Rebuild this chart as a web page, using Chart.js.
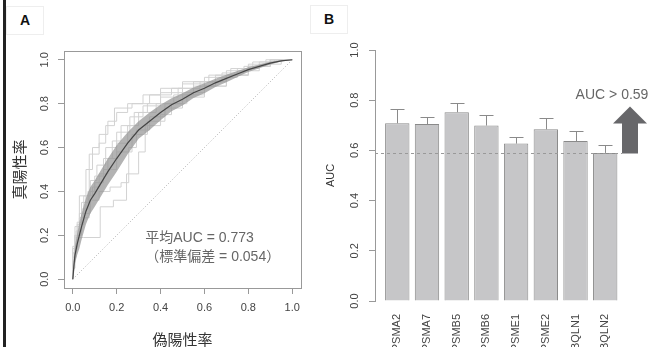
<!DOCTYPE html>
<html>
<head>
<meta charset="utf-8">
<script src="https://cdn.jsdelivr.net/npm/chart.js@4.4.1/dist/chart.umd.min.js"></script>
<style>
  html, body { margin: 0; padding: 0; background: #fff; overflow: hidden; width: 663px; height: 347px; }
  #rocCanvas { position: absolute; left: 0; top: 0; }
  #barCanvas { position: absolute; left: 315px; top: 0; }
  .edge { position: absolute; left: 3px; top: 0; width: 3px; height: 347px; background: #222; }
  .tag { position: absolute; width: 36px; height: 27px; border: 1px solid #eee; color: #111;
         font: bold 14px "Liberation Sans", Arial, sans-serif; text-align: center; line-height: 27px; }
</style>
</head>
<body>
<div class="edge"></div>
<div class="tag" style="left:6px;top:6px">A</div>
<div class="tag" style="left:310px;top:5px">B</div>
<canvas id="rocCanvas" width="315" height="349"></canvas>
<canvas id="barCanvas" width="348" height="347"></canvas>
<script>
// ---- panel A: ROC curves ----
const rocTicks = [0, 0.2, 0.4, 0.6, 0.8, 1.0];
const meanFpr  = [0, 0.005, 0.01, 0.02, 0.03, 0.04, 0.06, 0.08, 0.1, 0.13, 0.16, 0.2, 0.25, 0.3, 0.35, 0.4, 0.45, 0.5, 0.55, 0.6, 0.65, 0.7, 0.75, 0.8, 0.85, 0.9, 0.95, 1];
const meanTpr  = [0, 0.06, 0.11, 0.16, 0.2, 0.24, 0.31, 0.36, 0.39, 0.44, 0.49, 0.55, 0.62, 0.68, 0.72, 0.76, 0.795, 0.82, 0.85, 0.87, 0.895, 0.915, 0.935, 0.955, 0.97, 0.985, 0.995, 1];
const bandHigh = [0, 0.09, 0.15, 0.21, 0.26, 0.3, 0.37, 0.42, 0.45, 0.5, 0.55, 0.61, 0.67, 0.72, 0.76, 0.795, 0.825, 0.848, 0.874, 0.893, 0.914, 0.932, 0.949, 0.966, 0.979, 0.991, 0.998, 1];
const bandLow  = [0, 0.02, 0.07, 0.11, 0.14, 0.18, 0.25, 0.3, 0.33, 0.38, 0.43, 0.49, 0.57, 0.64, 0.68, 0.725, 0.765, 0.792, 0.826, 0.847, 0.876, 0.898, 0.921, 0.944, 0.961, 0.979, 0.992, 1];

// individual folds (step curves)
const foldFpr = [
  [0, 0.01, 0.03, 0.075, 0.12, 0.15, 0.19, 0.27, 0.35, 0.45, 0.55, 0.65, 0.75, 0.85, 0.95, 1],
  [0, 0.01, 0.05, 0.125, 0.185, 0.245, 0.3, 0.33, 0.4, 0.45, 0.52, 0.6, 0.7, 0.8, 0.9, 1],
  [0, 0.01, 0.03, 0.06, 0.09, 0.12, 0.16, 0.2, 0.25, 0.3, 0.38, 0.46, 0.55, 0.65, 0.75, 0.85, 0.93, 1],
  [0, 0.02, 0.04, 0.07, 0.1, 0.14, 0.18, 0.22, 0.28, 0.34, 0.4, 0.5, 0.6, 0.7, 0.8, 0.9, 1],
  [0, 0.01, 0.04, 0.08, 0.12, 0.17, 0.22, 0.255, 0.29, 0.35, 0.42, 0.5, 0.6, 0.7, 0.8, 0.9, 1],
  [0, 0.02, 0.05, 0.08, 0.11, 0.15, 0.2, 0.26, 0.32, 0.4, 0.48, 0.58, 0.68, 0.78, 0.88, 1],
  [0, 0.01, 0.03, 0.06, 0.09, 0.12, 0.16, 0.2, 0.25, 0.32, 0.4, 0.5, 0.62, 0.72, 0.82, 0.92, 1],
  [0, 0.015, 0.04, 0.07, 0.1, 0.14, 0.2, 0.27, 0.34, 0.42, 0.5, 0.6, 0.7, 0.8, 0.9, 1]
];
const foldTpr = [
  [0, 0.12, 0.2, 0.28, 0.57, 0.62, 0.7, 0.78, 0.8, 0.84, 0.87, 0.9, 0.93, 0.96, 0.98, 1],
  [0, 0.05, 0.19, 0.19, 0.33, 0.36, 0.48, 0.58, 0.7, 0.75, 0.8, 0.84, 0.88, 0.93, 0.97, 1],
  [0, 0.1, 0.2, 0.3, 0.38, 0.42, 0.48, 0.55, 0.62, 0.7, 0.76, 0.8, 0.84, 0.88, 0.92, 0.95, 0.99, 1],
  [0, 0.14, 0.26, 0.35, 0.4, 0.47, 0.55, 0.63, 0.7, 0.76, 0.8, 0.85, 0.89, 0.92, 0.95, 0.98, 1],
  [0, 0.08, 0.2, 0.3, 0.36, 0.4, 0.42, 0.44, 0.6, 0.68, 0.74, 0.8, 0.85, 0.9, 0.93, 0.97, 1],
  [0, 0.15, 0.25, 0.38, 0.45, 0.52, 0.6, 0.67, 0.74, 0.79, 0.83, 0.87, 0.9, 0.94, 0.97, 1],
  [0, 0.12, 0.24, 0.38, 0.5, 0.6, 0.66, 0.72, 0.76, 0.8, 0.84, 0.87, 0.9, 0.93, 0.96, 0.99, 1],
  [0, 0.1, 0.22, 0.32, 0.4, 0.44, 0.5, 0.58, 0.66, 0.72, 0.78, 0.83, 0.88, 0.93, 0.97, 1]
];
const chanceLine = [0, 1];
const aucLines = ['平均AUC = 0.773', '（標準偏差 = 0.054）'];
const aucLineX = 0.33;
const aucLineY = [0.187, 0.1];

// ---- panel B: AUC per gene ----
const genes = ['PSMA2', 'PSMA7', 'PSMB5', 'PSMB6', 'PSME1', 'PSME2', 'UBQLN1', 'UBQLN2'];
const aucMean  = [0.708, 0.705, 0.752, 0.699, 0.627, 0.684, 0.637, 0.590];
const aucUpper = [0.764, 0.734, 0.788, 0.740, 0.655, 0.728, 0.679, 0.620];
const aucTicks = [0, 0.2, 0.4, 0.6, 0.8, 1.0];
const aucCutoff = 0.59;

const sans = '"Liberation Sans", Arial, sans-serif';
const mixed = '"Liberation Sans", "Noto Sans CJK JP", sans-serif';
const cjk = '"Noto Sans CJK JP", "Noto Sans", sans-serif';
const toPoints = (xs, ys) => xs.map((x, i) => ({ x: x, y: ys[i] }));

const rocFrame = {
  id: 'rocFrame',
  afterDatasetsDraw(chart) {
    const { ctx, chartArea: a, scales: { x, y } } = chart;
    ctx.save();
    ctx.strokeStyle = '#999';
    ctx.lineWidth = 1;
    ctx.strokeRect(Math.round(a.left) + 0.5, Math.round(a.top) + 0.5,
                   Math.round(a.right - a.left), Math.round(a.bottom - a.top));
    ctx.fillStyle = '#666';
    ctx.font = '14px ' + mixed;
    ctx.textBaseline = 'middle';
    aucLines.forEach((t, i) => ctx.fillText(t, x.getPixelForValue(aucLineX), y.getPixelForValue(aucLineY[i])));
    ctx.restore();
  }
};

new Chart(document.getElementById('rocCanvas'), {
  type: 'line',
  data: {
    datasets: [
      { data: toPoints(meanFpr, meanTpr), borderColor: '#444', borderWidth: 1.2, pointRadius: 0 },
      { data: toPoints(meanFpr, bandHigh), borderColor: 'transparent', pointRadius: 0,
        backgroundColor: 'rgba(150,150,150,0.72)', fill: '+1' },
      { data: toPoints(meanFpr, bandLow), borderColor: 'transparent', pointRadius: 0 },
      ...foldFpr.map((xs, k) => ({
        data: toPoints(xs, foldTpr[k]), borderColor: '#d2d2d2', borderWidth: 1, pointRadius: 0, stepped: 'after'
      })),
      { data: toPoints(chanceLine, chanceLine), borderColor: '#b0b0b0', borderWidth: 1, borderDash: [1, 2], pointRadius: 0 }
    ]
  },
  options: {
    responsive: false,
    animation: false,
    events: [],
    layout: { padding: { top: 51, right: 14, left: 0, bottom: 0 } },
    plugins: { legend: { display: false }, tooltip: { enabled: false } },
    scales: {
      x: {
        type: 'linear', min: -0.04, max: 1.04,
        afterBuildTicks: s => { s.ticks = rocTicks.map(v => ({ value: v })); },
        afterFit: s => { s.height = 61; },
        grid: { drawOnChartArea: false, tickLength: 6, color: '#999' },
        border: { display: false },
        ticks: { padding: 7, color: '#444', font: { family: sans, size: 11 }, maxRotation: 0, autoSkip: false,
                 callback: v => v.toFixed(1) },
        title: { display: true, text: '偽陽性率', color: '#333', font: { family: cjk, size: 15 },
                 padding: { top: 0, bottom: 1 } }
      },
      y: {
        type: 'linear', min: -0.04, max: 1.04,
        afterBuildTicks: s => { s.ticks = rocTicks.map(v => ({ value: v })); },
        afterFit: s => { s.width = 64; },
        grid: { drawOnChartArea: false, tickLength: 6, color: '#999' },
        border: { display: false },
        ticks: { padding: 5, color: '#444', font: { family: sans, size: 11 }, minRotation: 90, maxRotation: 90,
                 crossAlign: 'center', autoSkip: false, callback: v => v.toFixed(1) },
        title: { display: true, text: '真陽性率', color: '#333', font: { family: cjk, size: 15 },
                 padding: { top: 10.5, bottom: 0 } }
      }
    }
  },
  plugins: [rocFrame]
});

const barExtras = {
  id: 'barExtras',
  afterDatasetsDraw(chart) {
    const { ctx, chartArea: a, scales: { x, y } } = chart;
    ctx.save();
    // error bars (upper only)
    ctx.strokeStyle = '#8a8a8a';
    ctx.lineWidth = 1;
    aucMean.forEach((v, i) => {
      const px = Math.round(x.getPixelForValue(i)) + 0.5;
      const y1 = y.getPixelForValue(v);
      const y2 = Math.round(y.getPixelForValue(aucUpper[i])) + 0.5;
      ctx.beginPath();
      ctx.moveTo(px, y1); ctx.lineTo(px, y2);
      ctx.moveTo(px - 7, y2); ctx.lineTo(px + 7, y2);
      ctx.stroke();
    });
    // cutoff line
    const yc = Math.round(y.getPixelForValue(aucCutoff)) + 0.5;
    const ax = a.right + 2.5;
    ctx.strokeStyle = '#999';
    ctx.setLineDash([3, 3]);
    ctx.beginPath();
    ctx.moveTo(a.left, yc); ctx.lineTo(ax - 8, yc);
    ctx.stroke();
    ctx.setLineDash([]);
    // arrow
    ctx.fillStyle = '#67676a';
    ctx.beginPath();
    ctx.moveTo(ax - 8, yc); ctx.lineTo(ax + 8, yc);
    ctx.lineTo(ax + 8, yc - 30); ctx.lineTo(ax + 17, yc - 30);
    ctx.lineTo(ax, yc - 47); ctx.lineTo(ax - 17, yc - 30);
    ctx.lineTo(ax - 8, yc - 30);
    ctx.closePath();
    ctx.fill();
    ctx.fillStyle = '#666';
    ctx.font = '14px ' + sans;
    ctx.textAlign = 'center';
    ctx.textBaseline = 'middle';
    ctx.fillText('AUC > ' + aucCutoff, ax - 18, yc - 58);
    ctx.restore();
  }
};

new Chart(document.getElementById('barCanvas'), {
  type: 'bar',
  data: {
    datasets: [{
      data: aucMean.map((v, i) => ({ x: i, y: v })),
      backgroundColor: '#c6c6c8', borderColor: '#8a8a8a', borderWidth: 1,
      barPercentage: 0.82, categoryPercentage: 1
    }]
  },
  options: {
    responsive: false,
    animation: false,
    events: [],
    layout: { padding: { top: 50, right: 35.5, left: 0, bottom: 0 } },
    plugins: { legend: { display: false }, tooltip: { enabled: false } },
    scales: {
      x: {
        type: 'linear', min: -0.75, max: 7.75, offset: false,
        afterBuildTicks: s => { s.ticks = genes.map((g, i) => ({ value: i })); },
        afterFit: s => { s.height = 46; },
        grid: { display: false, offset: false },
        border: { display: false },
        ticks: { padding: 5, color: '#444', font: { family: sans, size: 11 }, minRotation: 90, maxRotation: 90,
                 autoSkip: false, callback: v => genes[Math.round(v)] }
      },
      y: {
        min: 0, max: 1,
        afterBuildTicks: s => { s.ticks = aucTicks.map(v => ({ value: v })); },
        afterFit: s => { s.width = 60; },
        grid: { drawOnChartArea: false, tickLength: 6, color: '#999' },
        border: { display: true, color: '#999' },
        ticks: { padding: 6, color: '#444', font: { family: sans, size: 11 }, minRotation: 90, maxRotation: 90,
                 crossAlign: 'center', autoSkip: false, callback: v => v.toFixed(1) },
        title: { display: true, text: 'AUC', color: '#333', font: { family: sans, size: 11 },
                 padding: { top: 9.4, bottom: 0 } }
      }
    }
  },
  plugins: [barExtras]
});
</script>
</body>
</html>
